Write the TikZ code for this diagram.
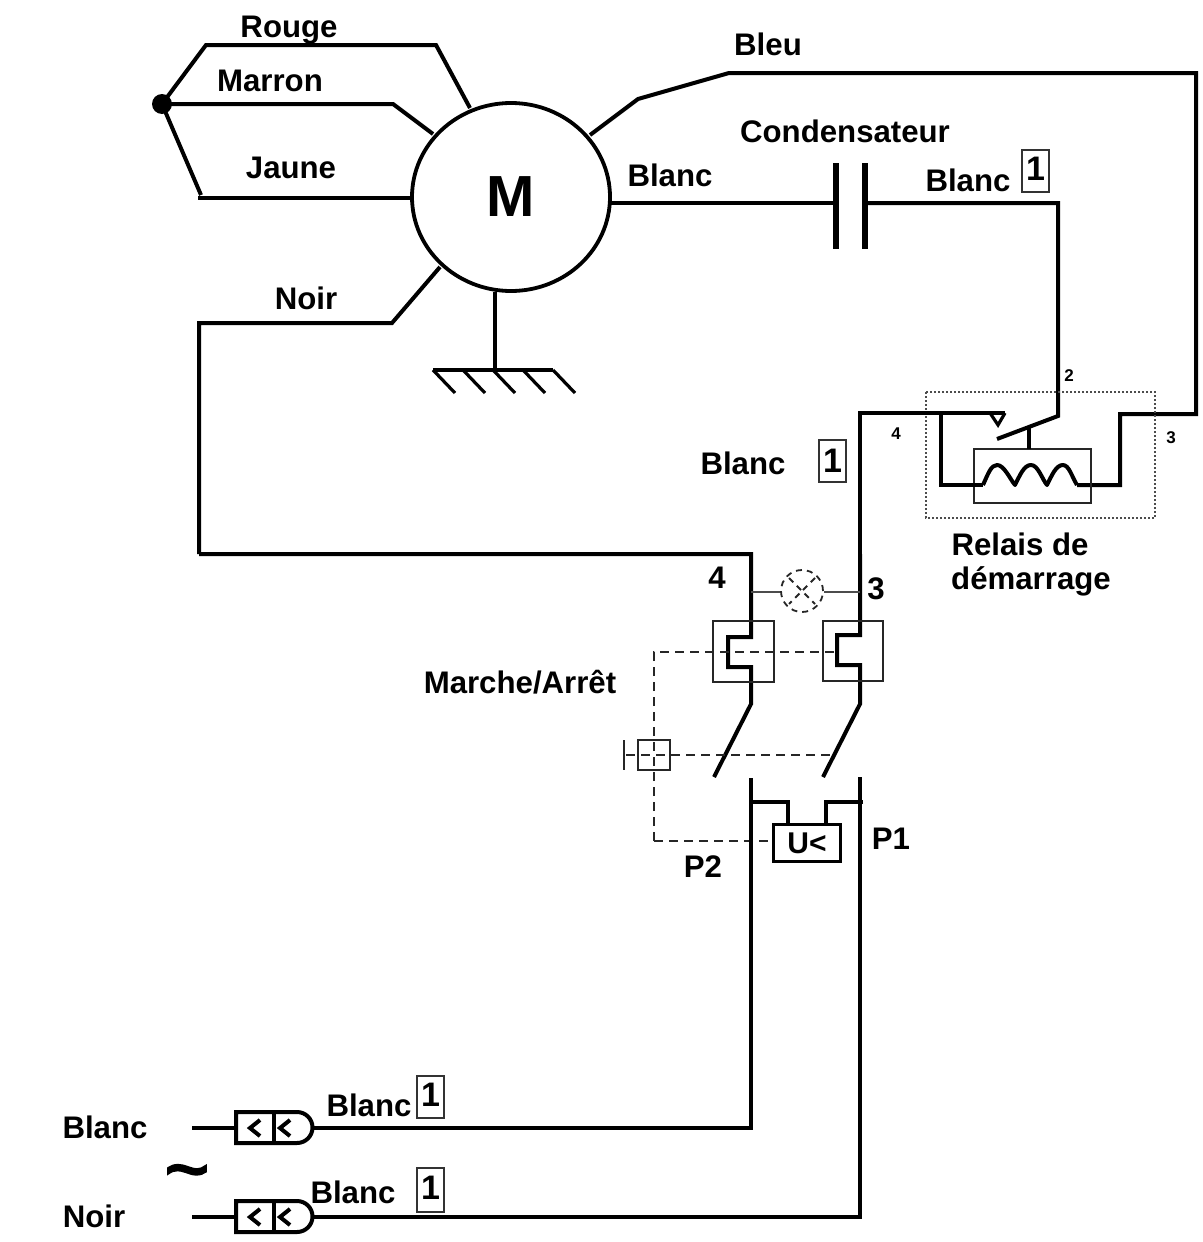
\documentclass[tikz,border=0pt]{standalone}
\usepackage{fontspec}
\usetikzlibrary{shapes.geometric}
\setmainfont{Liberation Sans}
\newfontfamily\tildefont[FakeBold=3]{Liberation Sans}
\tikzset{
  x=0.5pt,y=-0.5pt,
  wire/.style={line width=2pt,line join=miter,line cap=butt},
  mid wire/.style={line width=1.6pt,line join=miter,line cap=butt},
  thin wire/.style={line width=0.9pt,draw=black!70},
  box/.style={line width=1.2pt,draw=black!85},
  dash wire/.style={line width=1pt,dash pattern=on 4.5pt off 3pt,draw=black!85},
  lab/.style={font=\bfseries\fontsize{15.6}{17}\selectfont,inner sep=0pt},
  small lab/.style={font=\bfseries\fontsize{8.5}{10}\selectfont,inner sep=0pt},
  num/.style={draw=black!80,line width=0.7pt,font=\fontsize{17}{18}\selectfont\bfseries,inner sep=0pt,minimum width=13.5pt,minimum height=21pt},
}
\begin{document}
\begin{tikzpicture}
\useasboundingbox (0,0) rectangle (1203,1242);
\fill[white] (0,0) rectangle (1203,1242);
% motor
\node[draw,ellipse,line width=1.9pt,minimum width=99pt,minimum height=94pt,inner sep=0pt,font=\bfseries\fontsize{29}{30}\selectfont] (M) at (511,197) {M};
\coordinate (J) at (162,104);
\fill (J) circle (5pt);
\draw[wire] (J) -- (206,45) -- (436,45) -- (470,108);
\draw[wire] (J) -- (393,104) -- (433,134);
\draw[wire] (J) -- (201,195);
\draw[wire] (198,198) -- (411,198);
\draw[wire] (199,554) -- (199,323) -- (392,323) -- (440,267);
\draw[wire] (590,135) -- (638,99) -- (729,73) -- (1196,73) -- (1196,414) -- (1120,414) -- (1120,485) -- (1077,485);
\draw[wire] (611,203) -- (836,203);
\draw[line width=3pt] (836,163) -- (836,249);
\draw[line width=3pt] (865,163) -- (865,249);
\draw[wire] (865,203) -- (1058,203) -- (1058,416) -- (997,439);
% ground
\draw[wire] (495,292) -- (495,370);
\draw[wire] (433,370) -- (553,370);
\foreach \x in {433,463,493,523,553} \draw[mid wire] (\x,370) -- (\x+22,393);
% relay
\draw[line width=1.1pt,dash pattern=on 1pt off 1pt,draw=black!70] (926,392) rectangle (1155,518);
\draw[box] (974,449) rectangle (1091,503);
\draw[wire] (860,554) -- (860,413) -- (1005,413);
\draw[mid wire] (990,413) -- (998,425) -- (1005,413);
\draw[wire] (941,413) -- (941,485) -- (983,485);
\draw[wire,line join=round] (983,485) .. controls (988,474) and (991,465) .. (997,465) .. controls (1004,465) and (1010,479) .. (1015,485) .. controls (1020,475) and (1024,465) .. (1031,465) .. controls (1038,465) and (1042,479) .. (1047,485) .. controls (1052,475) and (1056,465) .. (1063,465) .. controls (1069,465) and (1072,477) .. (1077,485);
\draw[mid wire] (1029,427) -- (1029,449);
% poles
\draw[wire] (199,554) -- (751,554) -- (751,637) -- (728,637) -- (728,667) -- (751,667) -- (751,704) -- (714,777);
\draw[wire] (860,554) -- (860,635) -- (837,635) -- (837,665) -- (860,665) -- (860,704) -- (823,777);
% lamp
\draw[thin wire] (751,592) -- (781,592);
\draw[thin wire] (824,592) -- (860,592);
\draw[line width=0.9pt,dash pattern=on 3pt off 2.5pt,draw=black!85] (802,591) circle (10.5pt);
\draw[line width=0.9pt,dash pattern=on 3pt off 2.5pt,draw=black!85] (789,578) -- (815,604) (815,578) -- (789,604);
% switch boxes
\draw[box] (713,621) rectangle (774,682);
\draw[box] (823,621) rectangle (883,681);
% dashed
\draw[dash wire] (654,841) -- (654,652) -- (837,652);
\draw[dash wire] (654,841) -- (773,841);
\draw[dash wire] (626,755) -- (832,755);
\draw[box] (624,740) -- (624,770);
\draw[box] (638,740) rectangle (670,770);
% undervoltage
\draw[wire] (751,778) -- (751,1128) -- (312,1128);
\draw[wire] (860,777) -- (860,1217) -- (312,1217);
\draw[mid wire] (751,802) -- (788,802) -- (788,824);
\draw[mid wire] (863,802) -- (826,802) -- (826,824);
\node[draw,line width=1.2pt,minimum width=33.5pt,minimum height=18.5pt,inner sep=0pt,font=\bfseries\fontsize{15}{16}\selectfont,fill=white] (U) at (807,843) {U<};
% plugs
\foreach \y/\t/\b in {1128/1112/1143,1217/1201/1232}{
  \draw[wire] (192,\y) -- (236,\y);
  \draw[wire] (236,\t) -- (297,\t) arc[start angle=90,end angle=-90,radius=7.75pt] -- (236,\b) -- cycle;
  \draw[wire] (274,\t) -- (274,\b);
  \draw[wire] (260,\y-8) -- (250,\y) -- (260,\y+8);
  \draw[wire] (290,\y-8) -- (280,\y) -- (290,\y+8);
}
% labels
\node[lab] (l1) at (289,30) {Rouge};
\node[lab] (l2) at (270,81) {Marron};
\node[lab] (l3) at (291,168) {Jaune};
\node[lab] (l4) at (306,298) {Noir};
\node[lab] (l5) at (768,44) {Bleu};
\node[lab] (l6) at (845,131) {Condensateur};
\node[lab] (l7) at (670,175) {Blanc};
\node[lab] (l8) at (968,180) {Blanc};
\node[num] (n1) at (1035.5,171) {\raisebox{2.5pt}{1}};
\node[lab] (l9) at (743,463) {Blanc};
\node[num] (n2) at (832.5,461) {1};
\node[small lab] (s2) at (1069,376) {2};
\node[small lab] (s4) at (896,434) {4};
\node[small lab] (s3) at (1171,438) {3};
\node[lab] (l10) at (1020,544) {Relais de};
\node[lab] (l11) at (1031,581) {démarrage};
\node[lab] (l12) at (717,578) {4};
\node[lab] (l13) at (876,589) {3};
\node[lab] (l14) at (520,682) {Marche/Arrêt};
\node[lab] (l15) at (891,839) {P1};
\node[lab] (l16) at (703,867) {P2};
\node[lab] (l17) at (369,1105) {Blanc};
\node[num] (n3) at (430.5,1097) {\raisebox{2pt}{1}};
\node[lab] (l18) at (353,1192) {Blanc};
\node[num,minimum height=22pt] (n4) at (430.5,1190) {\raisebox{2pt}{1}};
\node[lab] (l19) at (105,1127) {Blanc};
\node[lab] (l20) at (94,1216) {Noir};
\node[font=\tildefont\fontsize{38}{40}\selectfont,inner sep=0pt] (t) at (187,1180) {\char"007E};
\end{tikzpicture}
\end{document}
